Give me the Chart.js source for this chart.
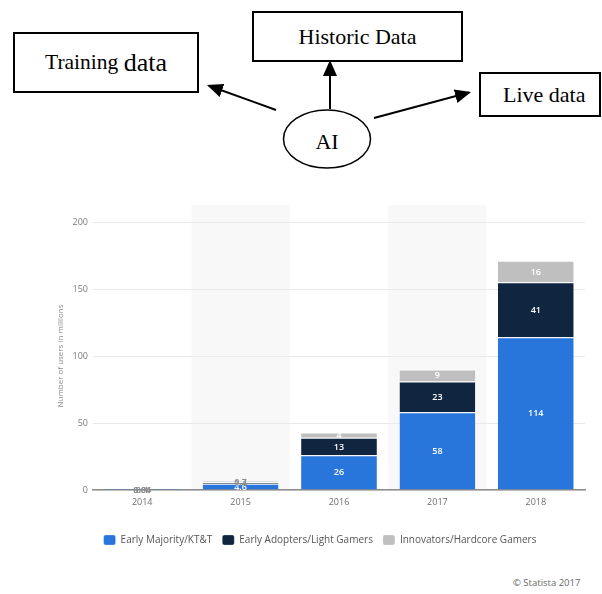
<!DOCTYPE html>
<html>
<head>
<meta charset="utf-8">
<title>AI data sources and VR users</title>
<script src="https://cdn.jsdelivr.net/npm/chart.js@4/dist/chart.umd.min.js"></script>
<style>
  html, body { margin: 0; padding: 0; background: #fff; }
  body { position: relative; width: 602px; height: 594px; overflow: hidden; }
  .box {
    position: absolute; box-sizing: border-box; border: 2px solid #000; background: #fff;
    display: flex; align-items: center; justify-content: center;
    font-family: "Liberation Serif", "Times New Roman", serif; color: #000; white-space: nowrap;
  }
  #diagram { position: absolute; left: 0; top: 0; }
  .ai {
    position: absolute; left: 283px; top: 129px; width: 88px; text-align: center;
    font: 22px "Liberation Serif", "Times New Roman", serif; color: #000;
  }
  #chartWrap { position: absolute; left: 40px; top: 200px; width: 560px; height: 370px; }
  .source {
    position: absolute; left: 513px; top: 576px;
    font: 9.5px "Open Sans", sans-serif; color: #666;
  }
</style>
</head>
<body>

<!-- flow diagram: AI feeding from three kinds of data -->
<svg id="diagram" width="602" height="190" viewBox="0 0 602 190">
  <defs>
    <marker id="head" markerUnits="userSpaceOnUse" markerWidth="16" markerHeight="14"
            refX="14" refY="7" orient="auto">
      <path d="M0,0 L16,7 L0,14 z" fill="#000"/>
    </marker>
  </defs>
  <line x1="276" y1="110" x2="208.9" y2="85.7" stroke="#000" stroke-width="2" marker-end="url(#head)"/>
  <line x1="330" y1="109" x2="330" y2="62" stroke="#000" stroke-width="2" marker-end="url(#head)"/>
  <line x1="374" y1="118" x2="469.1" y2="92.5" stroke="#000" stroke-width="2" marker-end="url(#head)"/>
  <ellipse cx="327" cy="139" rx="43.5" ry="29" fill="#fff" stroke="#000" stroke-width="1.5"/>
</svg>
<div class="box" style="left:13px;top:32px;width:186px;height:61px;">
  <span style="font-size:21.5px;">Training&nbsp;</span><span style="font-size:26px;">data</span>
</div>
<div class="box" style="left:252px;top:11px;width:211px;height:51px;font-size:22px;">Historic Data</div>
<div class="box" style="left:479px;top:72px;width:122px;height:45px;font-size:22px;justify-content:flex-start;padding-left:22px;">Live data</div>
<div class="ai">AI</div>

<div id="chartWrap"><canvas id="chart" width="560" height="370"></canvas></div>
<div class="source">© Statista 2017</div>

<script>
// Virtual reality users worldwide, in millions
const years = ['2014', '2015', '2016', '2017', '2018'];
const earlyMajority = [0.1, 4.6, 26, 58, 114];   // Early Majority/KT&T
const earlyAdopters = [0.06, 1.4, 13, 23, 41];   // Early Adopters/Light Gamers
const innovators = [0.04, 0.7, 4, 9, 16];        // Innovators/Hardcore Gamers
const yTicks = [0, 50, 100, 150, 200];

const seriesNames = ['Early Majority/KT&T', 'Early Adopters/Light Gamers', 'Innovators/Hardcore Gamers'];
const seriesColors = ['#2876dc', '#10253f', '#bfbfbf'];
const seriesValues = [earlyMajority, earlyAdopters, innovators];

// light bands behind every second year
const bandPlugin = {
  id: 'bands',
  beforeDraw(chart) {
    const { ctx, chartArea, scales: { x } } = chart;
    const step = x.width / years.length;
    ctx.save();
    ctx.fillStyle = '#f8f8f8';
    years.forEach((_, i) => {
      if (i % 2 === 1) {
        const cx = x.getPixelForValue(i);
        ctx.fillRect(cx - step / 2, chartArea.top - 17, step, chartArea.bottom - chartArea.top + 17);
      }
    });
    ctx.restore();
  }
};

// value printed in the middle of every stacked segment
const valueLabels = {
  id: 'valueLabels',
  afterDatasetsDraw(chart) {
    const { ctx } = chart;
    ctx.save();
    ctx.font = '600 9px "Open Sans", sans-serif';
    ctx.textAlign = 'center';
    ctx.textBaseline = 'middle';
    chart.data.datasets.forEach((ds, di) => {
      chart.getDatasetMeta(di).data.forEach((bar, i) => {
        const { x, y, base } = bar.getProps(['x', 'y', 'base'], true);
        const h = Math.abs(base - y);
        ctx.fillStyle = h >= 3 ? '#ffffff' : '#8f8f8f';
        ctx.fillText(String(ds.data[i]), x, (y + base) / 2 + 0.5);
      });
    });
    ctx.restore();
  }
};

new Chart(document.getElementById('chart'), {
  type: 'bar',
  data: {
    labels: years,
    datasets: seriesValues.map((vals, k) => ({
      label: seriesNames[k],
      data: vals,
      backgroundColor: seriesColors[k],
      borderColor: '#ffffff',
      borderWidth: { top: 1, left: 0, right: 0, bottom: 0 },
      borderSkipped: 'start',
      barPercentage: 0.77,
      categoryPercentage: 1
    }))
  },
  options: {
    responsive: false,
    devicePixelRatio: 1,
    animation: false,
    layout: { padding: { top: 22, right: 15, bottom: 15, left: 15 } },
    plugins: {
      legend: {
        position: 'bottom',
        labels: {
          boxWidth: 12, boxHeight: 10, padding: 10,
          useBorderRadius: true, borderRadius: 2,
          color: '#555', font: { family: '"Open Sans", sans-serif', size: 10 }
        }
      },
      tooltip: { enabled: false }
    },
    scales: {
      x: {
        stacked: true,
        grid: { display: false, drawTicks: false },
        border: { display: true, color: '#8e8e8e', width: 1.5 },
        ticks: { color: '#6e6e6e', padding: 7, font: { family: '"Open Sans", sans-serif', size: 9 } },
        afterFit(scale) { scale.height = 35; }
      },
      y: {
        stacked: true,
        min: 0, max: 200,
        afterBuildTicks(scale) { scale.ticks = yTicks.map(v => ({ value: v })); },
        grid: { color: '#e9e9e9', lineWidth: 1, drawTicks: false },
        border: { display: false },
        ticks: { color: '#7a7a7a', padding: 5, font: { family: '"Open Sans", sans-serif', size: 9 } },
        title: {
          display: true, text: 'Number of users in millions', color: '#8a8a8a',
          padding: { top: 1, bottom: 4 },
          font: { family: '"Open Sans", sans-serif', size: 8 }
        },
        afterFit(scale) { scale.width = 38; }
      }
    }
  },
  plugins: [bandPlugin, valueLabels]
});
</script>
</body>
</html>
